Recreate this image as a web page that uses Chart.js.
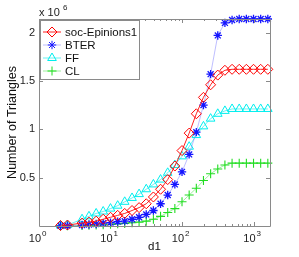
<!DOCTYPE html>
<html>
<head>
<meta charset="utf-8">
<script src="https://cdn.jsdelivr.net/npm/chart.js@4/dist/chart.umd.min.js"></script>
<style>
  html, body { margin: 0; padding: 0; background: #fff; }
  #wrap { width: 299px; height: 257px; }
</style>
</head>
<body>
<div id="wrap"><canvas id="triChart" width="299" height="257"></canvas></div>
<script>
// degree bins (d1), log spaced
const degrees = [2, 2.5, 4, 5, 6.3, 7.9, 10, 12.6, 15.8, 20, 25.1, 31.6, 39.8, 50.1, 63.1, 79.4,
  100, 125.9, 158.5, 199.5, 251.2, 316.2, 398.1, 501.2, 631, 794.3, 1000, 1258.9, 1584.9];

// cumulative number of triangles, in millions
const epinions = [0.005, 0.01, 0.03, 0.04, 0.05, 0.07, 0.09, 0.11, 0.13, 0.16, 0.19, 0.23, 0.30, 0.38, 0.48, 0.62,
  0.78, 0.96, 1.16, 1.33, 1.46, 1.56, 1.61, 1.62, 1.62, 1.62, 1.62, 1.62, 1.62];
const bter = [0.002, 0.004, 0.01, 0.015, 0.02, 0.03, 0.035, 0.045, 0.05, 0.07, 0.09, 0.12, 0.16, 0.23, 0.32, 0.43,
  0.56, 0.74, 0.97, 1.25, 1.57, 1.97, 2.10, 2.13, 2.14, 2.14, 2.14, 2.14, 2.14];
const ff = [0.005, 0.01, 0.07, 0.10, 0.13, 0.15, 0.18, 0.21, 0.25, 0.29, 0.33, 0.38, 0.43, 0.48, 0.55, 0.63,
  0.72, 0.82, 0.94, 1.03, 1.11, 1.16, 1.19, 1.21, 1.21, 1.21, 1.21, 1.21, 1.21];
const cl = [0.001, 0.002, 0.005, 0.008, 0.01, 0.013, 0.017, 0.022, 0.027, 0.033, 0.04, 0.05, 0.07, 0.10, 0.14, 0.18,
  0.25, 0.32, 0.39, 0.47, 0.54, 0.59, 0.63, 0.65, 0.65, 0.65, 0.65, 0.65, 0.65];

const seriesNames = ['soc-Epinions1', 'BTER', 'FF', 'CL'];
const xTicks = [1, 10, 100, 1000];
const xTickExp = ['0', '1', '2', '3'];
const yTicks = [0.5, 1, 1.5, 2];

const FONT = '"Liberation Sans", Arial, Helvetica, sans-serif';
const AXIS_GREY = '#8a8a8a';

function toPoints(ys) {
    return degrees.map((d, i) => ({ x: d, y: ys[i] }));
}

// MATLAB style box with inward ticks
const matlabAxes = {
    id: 'matlabAxes',
    afterDatasetsDraw(chart) {
        const { ctx, chartArea: a, scales } = chart;
        const x = scales.x, y = scales.y;
        ctx.save();
        ctx.strokeStyle = AXIS_GREY;
        ctx.lineWidth = 1;
        ctx.beginPath();
        ctx.rect(Math.round(a.left) + 0.5, Math.round(a.top) + 0.5,
                 Math.round(a.right - a.left), Math.round(a.bottom - a.top));
        ctx.stroke();
        ctx.beginPath();
        // x ticks, major and minor
        for (let e = 0; e <= 3; e++) {
            for (let m = 1; m <= 9; m++) {
                const v = m * Math.pow(10, e);
                if (v > x.max) break;
                const px = Math.round(x.getPixelForValue(v)) + 0.5;
                const len = m === 1 ? 4 : 2;
                ctx.moveTo(px, a.bottom); ctx.lineTo(px, a.bottom - len);
                ctx.moveTo(px, a.top); ctx.lineTo(px, a.top + len);
            }
        }
        // y ticks
        yTicks.forEach(v => {
            const py = Math.round(y.getPixelForValue(v)) + 0.5;
            ctx.moveTo(a.left, py); ctx.lineTo(a.left + 4, py);
            ctx.moveTo(a.right, py); ctx.lineTo(a.right - 4, py);
        });
        ctx.stroke();

        // x tick labels with superscript exponents
        ctx.fillStyle = '#222';
        ctx.textBaseline = 'alphabetic';
        xTicks.forEach((v, i) => {
            const px = x.getPixelForValue(v);
            ctx.textAlign = 'right';
            ctx.font = '11px ' + FONT;
            ctx.fillText('10', px + 2, 242);
            ctx.textAlign = 'left';
            ctx.font = '8px ' + FONT;
            ctx.fillText(xTickExp[i], px + 3, 236);
        });

        // exponent label
        ctx.textAlign = 'left';
        ctx.font = '11px ' + FONT;
        ctx.fillText('x 10', 39, 16);
        ctx.font = '8px ' + FONT;
        ctx.fillText('6', 63, 10);
        ctx.restore();
    }
};

// legend box drawn inside the axes
const insideLegend = {
    id: 'insideLegend',
    afterDraw(chart) {
        const { ctx } = chart;
        const bx = 40.5, by = 20.5, bw = 99, bh = 59;
        ctx.save();
        ctx.fillStyle = '#fff';
        ctx.strokeStyle = AXIS_GREY;
        ctx.lineWidth = 1;
        ctx.fillRect(bx, by, bw, bh);
        ctx.strokeRect(bx, by, bw, bh);
        chart.data.datasets.forEach((ds, i) => {
            const yy = 32 + i * 13;
            ctx.strokeStyle = ds.borderColor;
            ctx.lineWidth = 1;
            ctx.beginPath();
            ctx.moveTo(43, yy); ctx.lineTo(61, yy);
            ctx.stroke();
            ctx.strokeStyle = ds.pointBorderColor;
            ctx.fillStyle = 'rgba(0,0,0,0)';
            Chart.helpers.drawPoint(ctx, {
                pointStyle: ds.pointStyle, radius: ds.pointRadius,
                rotation: 0, borderWidth: ds.pointBorderWidth
            }, 52, yy);
            ctx.fillStyle = '#111';
            ctx.font = '11.5px ' + FONT;
            ctx.textBaseline = 'middle';
            ctx.textAlign = 'left';
            ctx.fillText(ds.label, 65, yy + 0.5);
        });
        ctx.restore();
    }
};

function makeSet(i, ys, lineColor, markColor, style, radius, bw) {
    return {
        label: seriesNames[i],
        data: toPoints(ys),
        borderColor: lineColor,
        borderWidth: 1,
        pointStyle: style,
        pointRadius: radius,
        pointBorderColor: markColor,
        pointBackgroundColor: 'rgba(0,0,0,0)',
        pointBorderWidth: bw,
        fill: false,
        tension: 0,
        clip: 8
    };
}

function initChart() {
    const ctx = document.getElementById('triChart');
    new Chart(ctx, {
        type: 'line',
        data: {
            datasets: [
                makeSet(0, epinions, '#ff2020', '#ff0000', 'rectRot', 5, 1),
                makeSet(1, bter, 'rgba(110,110,255,0.45)', '#1515ff', 'star', 4.2, 1.3),
                makeSet(2, ff, 'rgba(0,235,235,0.6)', '#00eeee', 'triangle', 5, 1),
                makeSet(3, cl, 'rgba(40,220,40,0.45)', '#22dd22', 'cross', 4.5, 1.1)
            ]
        },
        options: {
            responsive: false,
            animation: false,
            devicePixelRatio: 1,
            layout: { padding: { top: 19, right: 29, left: 0, bottom: 0 } },
            plugins: {
                legend: { display: false },
                tooltip: { enabled: false }
            },
            scales: {
                x: {
                    type: 'logarithmic',
                    min: 1,
                    max: 1700,
                    grid: { display: false, drawTicks: false, tickLength: 0 },
                    border: { display: false },
                    afterFit: s => { s.height = 31; },
                    afterBuildTicks: s => { s.ticks = xTicks.map(v => ({ value: v })); },
                    ticks: {
                        autoSkip: false,
                        maxRotation: 0,
                        padding: 5,
                        font: { family: FONT, size: 11 },
                        callback: () => ''   // drawn by matlabAxes with superscripts
                    },
                    title: {
                        display: true,
                        text: 'd1',
                        color: '#111',
                        font: { family: FONT, size: 11.5 },
                        padding: { top: 0, bottom: 3 }
                    }
                },
                y: {
                    min: 0,
                    max: 2.14,
                    grid: { display: false, drawTicks: false, tickLength: 0 },
                    border: { display: false },
                    afterFit: s => { s.width = 39; },
                    afterBuildTicks: s => { s.ticks = yTicks.map(v => ({ value: v })); },
                    ticks: {
                        padding: 4,
                        color: '#222',
                        font: { family: FONT, size: 11 },
                        callback: v => String(v)
                    },
                    title: {
                        display: true,
                        text: 'Number of Triangles',
                        color: '#111',
                        font: { family: FONT, size: 12.5 },
                        padding: { top: 5, bottom: 0 }
                    }
                }
            }
        },
        plugins: [matlabAxes, insideLegend]
    });
}

document.addEventListener('DOMContentLoaded', initChart);
</script>
</body>
</html>
